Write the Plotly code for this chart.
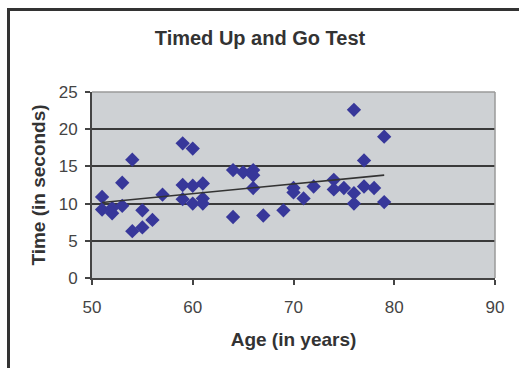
import numpy as np
import plotly.graph_objects as go

age = [51, 51, 52, 52, 53, 53, 54, 54, 55, 55, 56, 57,
       59, 59, 59, 60, 60, 60, 61, 61, 61,
       64, 64, 65, 66, 66, 66, 67, 69, 70, 70, 71, 72,
       74, 74, 75, 76, 76, 76, 77, 77, 78, 79, 79]
time_s = [10.9, 9.2, 9.4, 8.7, 12.8, 9.7, 15.9, 6.3, 9.1, 6.8, 7.8, 11.2,
          18.1, 12.5, 10.6, 17.4, 12.4, 10.0, 12.7, 10.7, 10.0,
          14.5, 8.2, 14.2, 14.5, 13.8, 12.1, 8.4, 9.1, 12.1, 11.5, 10.7, 12.3,
          13.2, 11.9, 12.1, 22.6, 11.4, 10.0, 15.8, 12.3, 12.1, 19.0, 10.2]

x_ticks = [50, 60, 70, 80, 90]
y_ticks = [0, 5, 10, 15, 20, 25]

slope, intercept = np.polyfit(age, time_s, 1)
trend_x = [min(age), max(age)]
trend_y = [slope * v + intercept for v in trend_x]

fig = go.Figure()
fig.add_trace(go.Scatter(x=age, y=time_s, mode="markers",
                         marker=dict(symbol="diamond", size=11, color="#37379A",
                                     line=dict(width=0)),
                         showlegend=False, cliponaxis=False))
fig.add_trace(go.Scatter(x=trend_x, y=trend_y, mode="lines",
                         line=dict(color="#333333", width=1.6),
                         showlegend=False))

L, R, T, B = 92, 495, 92, 278
W, H = 519, 368
pw, ph = R - L, B - T

def px(x):
    return (x - L) / pw

def py(y):
    return (B - y) / ph

fig.update_layout(
    width=W, height=H,
    margin=dict(l=L, r=W - R, t=T, b=H - B, pad=0),
    paper_bgcolor="white",
    plot_bgcolor="#CED1D4",
    font=dict(family="Liberation Sans, Arial, sans-serif", color="#333333"),
    title=dict(text="<b>Timed Up and Go Test</b>", x=260 / W, xanchor="center",
               y=1 - 38 / H, yanchor="middle",
               font=dict(size=20, color="#333333")),
    xaxis=dict(range=[50, 90], tickvals=x_ticks, showgrid=False, zeroline=False,
               showline=True, linecolor="#444444", linewidth=2,
               ticks="outside", ticklen=5, tickwidth=1.5, tickcolor="#444444",
               ticklabelstandoff=8,
               tickfont=dict(size=17, color="#444444"),
               title=dict(text="<b>Age (in years)</b>", font=dict(size=19, color="#333333"),
                          standoff=16)),
    yaxis=dict(range=[0, 25], tickvals=y_ticks, showgrid=True, gridcolor="#3A3A3A",
               gridwidth=2, zeroline=False,
               showline=True, linecolor="#444444", linewidth=2,
               ticks="outside", ticklen=5, tickwidth=1.5, tickcolor="#444444",
               ticklabelstandoff=4,
               tickfont=dict(size=17, color="#444444"),
               title=dict(text="<b>Time (in seconds)</b>", font=dict(size=19, color="#333333"),
                          standoff=8)),
    shapes=[
        dict(type="line", xref="paper", yref="paper", x0=1, x1=1, y0=0, y1=1,
             line=dict(color="#9A9A9A", width=1.5)),
        dict(type="line", xref="paper", yref="paper", x0=0, x1=1, y0=1, y1=1,
             line=dict(color="#9A9A9A", width=1.5)),
        dict(type="line", xref="paper", yref="paper", x0=px(8.5), x1=px(525),
             y0=py(9.5), y1=py(9.5), line=dict(color="#333333", width=3)),
        dict(type="line", xref="paper", yref="paper", x0=px(8.5), x1=px(8.5),
             y0=py(8), y1=py(380), line=dict(color="#333333", width=3)),
    ],
)

fig.write_html("out.html")
